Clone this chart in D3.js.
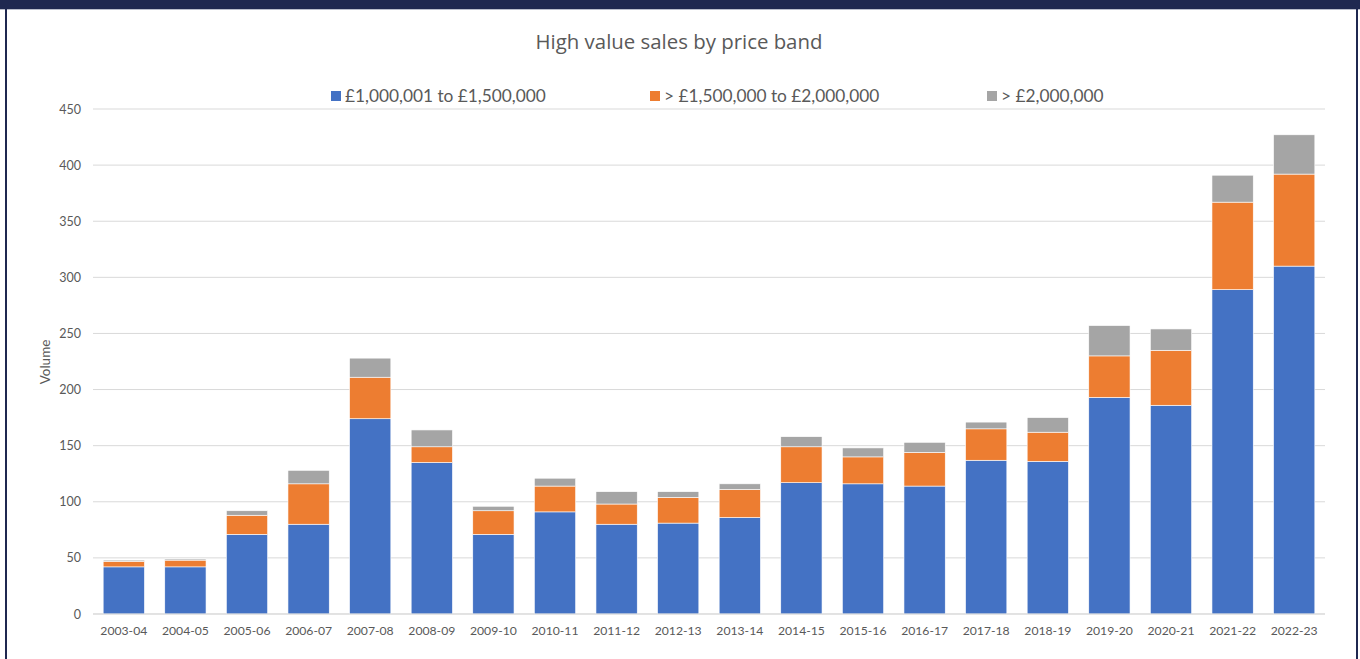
<!DOCTYPE html>
<html>
<head>
<meta charset="utf-8">
<script src="https://cdn.jsdelivr.net/npm/d3@7"></script>
<style>
  html, body { margin: 0; padding: 0; background: #ffffff; }
  svg { display: block; }
</style>
</head>
<body>
<svg id="chart" width="1360" height="659"></svg>
<script>
const categories = ["2003-04","2004-05","2005-06","2006-07","2007-08","2008-09","2009-10","2010-11","2011-12","2012-13","2013-14","2014-15","2015-16","2016-17","2017-18","2018-19","2019-20","2020-21","2021-22","2022-23"];
const band1 = [42, 42, 71, 80, 174, 135, 71, 91, 80, 81, 86, 117, 116, 114, 137, 136, 193, 186, 289, 310];
const band2 = [5, 6, 17, 36, 37, 14, 21, 23, 18, 23, 25, 32, 24, 30, 28, 26, 37, 49, 78, 82];
const band3 = [1, 1, 4, 12, 17, 15, 4, 7, 11, 5, 5, 9, 8, 9, 6, 13, 27, 19, 24, 35];
const seriesNames = ["£1,000,001 to £1,500,000", "> £1,500,000 to £2,000,000", "> £2,000,000"];
const seriesColors = ["#4472c4", "#ed7d31", "#a5a5a5"];
const yTicks = [0, 50, 100, 150, 200, 250, 300, 350, 400, 450];
const titleText = "High value sales by price band";
const yAxisTitle = "Volume";

const svg = d3.select("#chart");
const font = "Lato, 'Open Sans', sans-serif";

// frame
svg.append("rect").attr("x", 0).attr("y", 0).attr("width", 1360).attr("height", 9).attr("fill", "#1f2850");
svg.append("rect").attr("x", 0).attr("y", 9).attr("width", 1360).attr("height", 1).attr("fill", "#b9bccb");
svg.append("rect").attr("x", 5).attr("y", 0).attr("width", 2).attr("height", 659).attr("fill", "#1f2850");
svg.append("rect").attr("x", 1356).attr("y", 0).attr("width", 2).attr("height", 659).attr("fill", "#1f2850");

const plot = { left: 93, right: 1325, top: 109, bottom: 614 };

const x = d3.scaleBand().domain(categories).range([plot.left, plot.right]).paddingInner(0.33).paddingOuter(0.165);
const y = d3.scaleLinear().domain([0, 450]).range([plot.bottom, plot.top]);

// gridlines
svg.append("g").selectAll("line").data(yTicks).join("line")
  .attr("x1", plot.left).attr("x2", plot.right)
  .attr("y1", d => y(d)).attr("y2", d => y(d))
  .attr("stroke", "#d9d9d9").attr("stroke-width", 1);

// y axis labels
const yAxis = d3.axisLeft(y).tickValues(yTicks).tickSize(0).tickPadding(0);
const yg = svg.append("g").attr("transform", `translate(${plot.left - 12},0)`).call(yAxis);
yg.select(".domain").remove();
yg.selectAll("text").attr("font-family", font).attr("font-size", 12.5).attr("fill", "#595959");

// stacked data
const rows = categories.map((c, i) => ({ cat: c, s0: band1[i], s1: band2[i], s2: band3[i] }));
const stack = d3.stack().keys(["s0", "s1", "s2"]);
const stacked = stack(rows);

svg.append("g").selectAll("g").data(stacked).join("g")
  .attr("fill", (d, i) => seriesColors[i])
  .selectAll("rect").data(d => d).join("rect")
  .attr("x", d => x(d.data.cat))
  .attr("width", x.bandwidth())
  .attr("y", d => y(d[1]))
  .attr("height", d => y(d[0]) - y(d[1]))
  .attr("stroke", "#ffffff").attr("stroke-width", 0.6);

// x axis
const xAxis = d3.axisBottom(x).tickSize(0).tickPadding(0);
const xg = svg.append("g").attr("transform", `translate(0,${plot.bottom + 12})`).call(xAxis);
xg.select(".domain").remove();
xg.selectAll("text").attr("font-family", font).attr("font-size", 12.2).attr("fill", "#595959").attr("dy", "0.75em");

// baseline
svg.append("line").attr("x1", plot.left).attr("x2", plot.right).attr("y1", plot.bottom).attr("y2", plot.bottom)
  .attr("stroke", "#d9d9d9").attr("stroke-width", 1);

// title
svg.append("text").attr("x", 679).attr("y", 49).attr("text-anchor", "middle")
  .attr("font-family", "'Open Sans', Lato, sans-serif").attr("font-size", 20.4).attr("fill", "#595959").text(titleText);

// y axis title
svg.append("text").attr("transform", "translate(50,362) rotate(-90)").attr("text-anchor", "middle")
  .attr("font-family", font).attr("font-size", 13.5).attr("fill", "#595959").text(yAxisTitle);

// legend
const legendX = [331, 650, 987];
const lg = svg.append("g").selectAll("g").data(seriesNames).join("g")
  .attr("transform", (d, i) => `translate(${legendX[i]},0)`);
lg.append("rect").attr("x", 0).attr("y", 91).attr("width", 10).attr("height", 10).attr("fill", (d, i) => seriesColors[i]);
lg.append("text").attr("x", 14).attr("y", 102).attr("font-family", font).attr("font-size", 17.3).attr("fill", "#595959").text(d => d);
</script>
</body>
</html>
